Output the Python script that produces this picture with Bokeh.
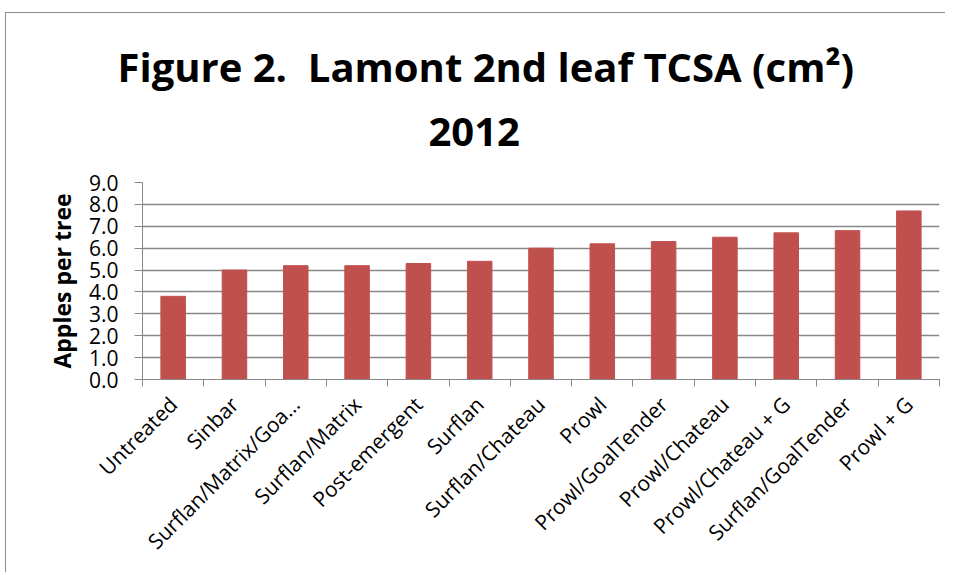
from math import pi
from bokeh.plotting import figure
from bokeh.models import ColumnDataSource, FixedTicker, Range1d, Title
from bokeh.embed import file_html
from bokeh.resources import INLINE

categories = ["Untreated", "Sinbar", "Surflan/Matrix/Goa…", "Surflan/Matrix", "Post-emergent",
              "Surflan", "Surflan/Chateau", "Prowl", "Prowl/GoalTender", "Prowl/Chateau",
              "Prowl/Chateau + G", "Surflan/GoalTender", "Prowl + G"]
values = [3.8, 5.0, 5.2, 5.2, 5.3, 5.4, 6.0, 6.2, 6.3, 6.5, 6.7, 6.8, 7.7]
y_ticks = [0, 1, 2, 3, 4, 5, 6, 7, 8, 9]

n = len(categories)
centers = [i + 0.5 for i in range(n)]
bounds = [i for i in range(n + 1)]

src = ColumnDataSource(dict(x=centers, top=values))

p = figure(width=940, height=560, output_backend="svg", toolbar_location=None,
           x_range=Range1d(0, n), y_range=Range1d(0, 9),
           min_border_left=136, min_border_right=7, min_border_top=169, min_border_bottom=194)

p.vbar(x="x", top="top", width=0.4, source=src, fill_color="#C0504D", line_color="#C0504D")

FONT = "Open Sans"
GRAY = "#878787"
# titles (first added is closest to plot)
spacer = Title(text="\u00a0", text_font_size="2px", standoff=10)
t2 = Title(text="2012", align="left", text_font=FONT, text_font_size="40px",
           text_font_style="bold", text_color="black", standoff=45, offset=286)
t1 = Title(text="Figure 2.\u00a0 Lamont 2nd leaf TCSA (cm²)", align="left", text_font=FONT,
           text_font_size="40px", text_font_style="bold", text_color="black", standoff=0,
           offset=-25)
p.add_layout(spacer, "above")
p.add_layout(t2, "above")
p.add_layout(t1, "above")

# y axis
ya = p.yaxis[0]
ya.ticker = FixedTicker(ticks=y_ticks)
ya.major_label_overrides = {t: f"{t:.1f}" for t in y_ticks}
ya.axis_label = "Apples per tree"
ya.axis_label_text_font = FONT
ya.axis_label_text_font_style = "bold"
ya.axis_label_text_font_size = "23px"
ya.axis_label_text_color = "black"
ya.major_label_text_font = FONT
ya.major_label_text_font_size = "21px"
ya.major_label_text_color = "black"
ya.axis_line_color = GRAY
ya.major_tick_line_color = GRAY
ya.major_tick_out = 8
ya.major_tick_in = 0
ya.minor_tick_line_color = None
ya.major_label_standoff = 16
ya.axis_label_standoff = 8

# x axis
xa = p.xaxis[0]
xa.ticker = FixedTicker(ticks=centers, minor_ticks=bounds)
xa.major_label_overrides = {c: lab for c, lab in zip(centers, categories)}
xa.major_label_orientation = pi / 4
xa.major_label_text_font = FONT
xa.major_label_text_font_size = "21px"
xa.major_label_text_color = "black"
xa.axis_line_color = GRAY
xa.major_tick_line_color = None
xa.minor_tick_line_color = GRAY
xa.minor_tick_out = 7
xa.minor_tick_in = 0
xa.major_label_standoff = 14

p.xgrid.grid_line_color = None
p.ygrid.ticker = FixedTicker(ticks=y_ticks)
p.ygrid.grid_line_color = GRAY
p.ygrid.grid_line_width = 1.3
p.outline_line_color = None
p.background_fill_color = "white"
p.border_fill_color = "white"
p.styles = {"margin-top": "12px", "margin-left": "5px",
            "border-top": "1px solid #8c8c8c", "border-left": "1px solid #8c8c8c"}

open("out.html", "w").write(file_html(p, INLINE))
